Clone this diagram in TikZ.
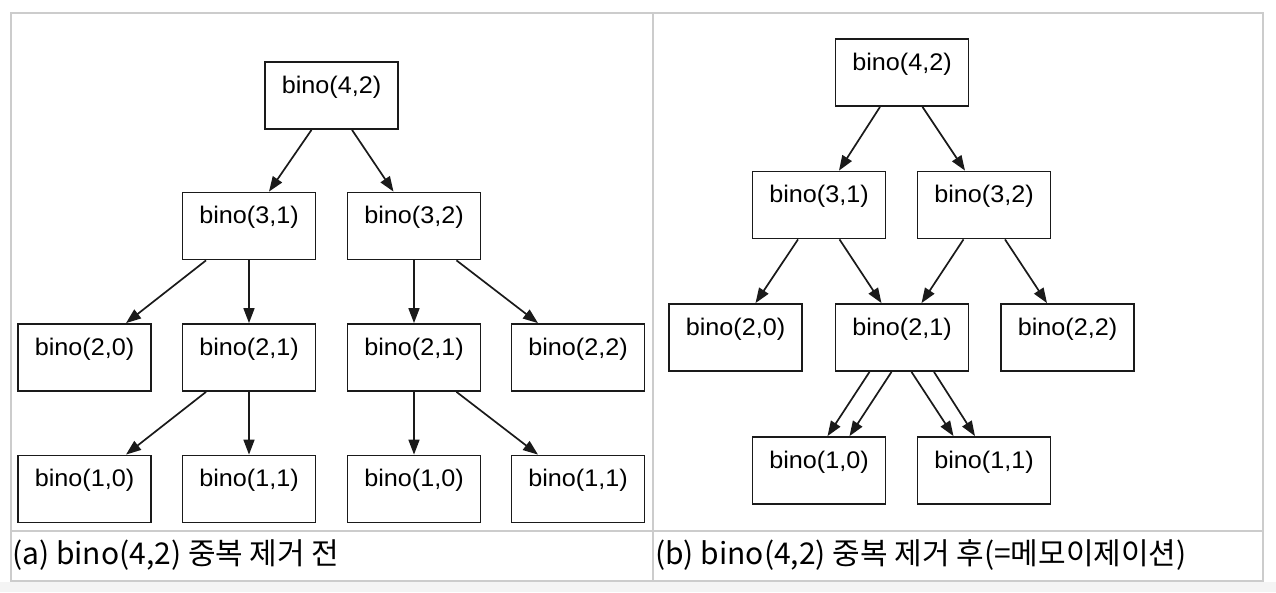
\documentclass[tikz,border=0pt]{standalone}
\usepackage{fontspec}
\usetikzlibrary{arrows.meta}
\newfontfamily\nodefont[FakeStretch=1.05]{Liberation Sans}
\newfontfamily\capfont{Noto Sans CJK KR}
\definecolor{tablegray}{HTML}{CCCCCC}
\definecolor{pagegray}{HTML}{F4F4F4}
\definecolor{boxline}{HTML}{1A1A1A}
\tikzset{
  bbox/.style={draw=boxline, line width=1.8pt, rectangle, minimum width=133pt, minimum height=67pt,
    inner sep=0pt, text height=17pt, text depth=22pt, font=\nodefont\fontsize{24}{28}\selectfont},
  arr/.style={draw=boxline, line width=1.7pt, -{Triangle[length=15pt,width=11pt]}},
  tline/.style={draw=tablegray, line width=2pt},
  captxt/.style={anchor=base west, inner sep=0pt, font=\capfont\fontsize{30}{34}\selectfont}
}
\begin{document}
\begin{tikzpicture}[x=1pt,y=-1pt]
\useasboundingbox (0,0) rectangle (1276,592);
\fill[white] (0,0) rectangle (1276,592);
\fill[pagegray] (0,582) rectangle (1276,592);
% table
\draw[tline] (11,13) rectangle (1263,580.5);
\draw[tline] (11,530.5) -- (1263,530.5);
\draw[tline] (652.5,13) -- (652.5,580.5);
% left tree
\node[bbox] (L42) at (331.5,95.5) {bino(4,2)};
\node[bbox] (L31) at (249,226) {bino(3,1)};
\node[bbox] (L32) at (414,226) {bino(3,2)};
\node[bbox] (L20) at (84.5,357.5) {bino(2,0)};
\node[bbox] (L21a) at (249,357.5) {bino(2,1)};
\node[bbox] (L21b) at (414,357.5) {bino(2,1)};
\node[bbox] (L22) at (578,357.5) {bino(2,2)};
\node[bbox] (L10a) at (84.5,489) {bino(1,0)};
\node[bbox] (L11a) at (249,489) {bino(1,1)};
\node[bbox] (L10b) at (414,489) {bino(1,0)};
\node[bbox] (L11b) at (578,489) {bino(1,1)};
\draw[arr] ([xshift=-20pt]L42.south) -- ([xshift=20pt]L31.north);
\draw[arr] ([xshift=20.5pt]L42.south) -- ([xshift=-20.5pt]L32.north);
\draw[arr] ([xshift=-43pt]L31.south) -- ([xshift=41.5pt]L20.north);
\draw[arr] (L31.south) -- (L21a.north);
\draw[arr] (L32.south) -- (L21b.north);
\draw[arr] ([xshift=42.5pt]L32.south) -- ([xshift=-40pt]L22.north);
\draw[arr] ([xshift=-43pt]L21a.south) -- ([xshift=41.5pt]L10a.north);
\draw[arr] (L21a.south) -- (L11a.north);
\draw[arr] (L21b.south) -- (L10b.north);
\draw[arr] ([xshift=42.5pt]L21b.south) -- ([xshift=-40pt]L11b.north);
% right tree
\node[bbox] (R42) at (902,72.5) {bino(4,2)};
\node[bbox] (R31) at (819,205) {bino(3,1)};
\node[bbox] (R32) at (984,205) {bino(3,2)};
\node[bbox] (R20) at (735.5,337.5) {bino(2,0)};
\node[bbox] (R21) at (902,337.5) {bino(2,1)};
\node[bbox] (R22) at (1067.5,337.5) {bino(2,2)};
\node[bbox] (R10) at (819,470.5) {bino(1,0)};
\node[bbox] (R11) at (984,470.5) {bino(1,1)};
\draw[arr] ([xshift=-22pt]R42.south) -- ([xshift=20pt]R31.north);
\draw[arr] ([xshift=20.5pt]R42.south) -- ([xshift=-19pt]R32.north);
\draw[arr] ([xshift=-21pt]R31.south) -- ([xshift=20pt]R20.north);
\draw[arr] ([xshift=20.5pt]R31.south) -- ([xshift=-20.5pt]R21.north);
\draw[arr] ([xshift=-20.5pt]R32.south) -- ([xshift=19.5pt]R21.north);
\draw[arr] ([xshift=21pt]R32.south) -- ([xshift=-20.5pt]R22.north);
\draw[arr] ([xshift=-32.5pt]R21.south) -- ([xshift=8.5pt]R10.north);
\draw[arr] ([xshift=-10.5pt]R21.south) -- ([xshift=30.5pt]R10.north);
\draw[arr] ([xshift=9.5pt]R21.south) -- ([xshift=-30.5pt]R11.north);
\draw[arr] ([xshift=32pt]R21.south) -- ([xshift=-9pt]R11.north);
% captions
\node[captxt] (capa) at (12,564) {(a) bino(4,2) 중복 제거 전};
\node[captxt] (capb) at (655,564) {(b) bino(4,2) 중복 제거 후(=메모이제이션)};
\end{tikzpicture}
\end{document}
